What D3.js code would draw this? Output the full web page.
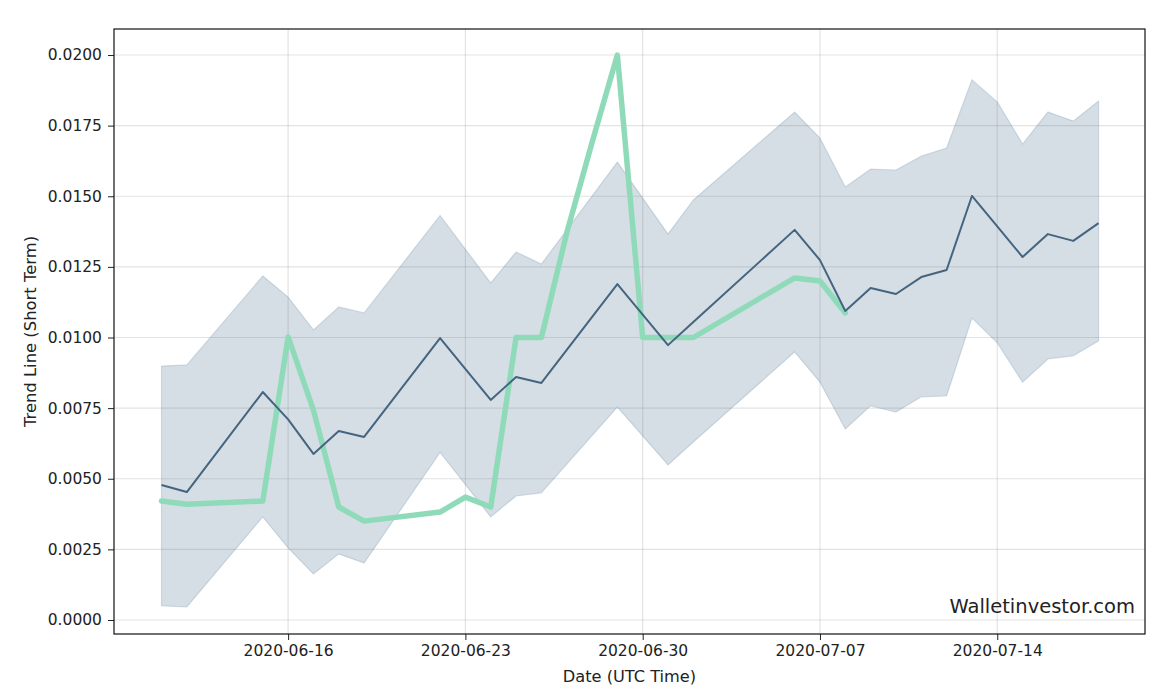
<!DOCTYPE html>
<html><head><meta charset="utf-8">
<script src="https://cdn.jsdelivr.net/npm/d3@7/dist/d3.min.js"></script>
<style>
body{margin:0;background:#fff;}
svg{display:block;}
text{font-family:"DejaVu Sans",sans-serif;fill:#222;}
</style></head><body>
<svg id="c" width="1170" height="690"></svg>
<script>
// Mean trend line and band (dates share one array)
const bandDates = ["2020-06-11","2020-06-12","2020-06-15","2020-06-16","2020-06-17","2020-06-18","2020-06-19","2020-06-22","2020-06-24","2020-06-25","2020-06-26","2020-06-29","2020-07-01","2020-07-02","2020-07-06","2020-07-07","2020-07-08","2020-07-09","2020-07-10","2020-07-11","2020-07-12","2020-07-13","2020-07-14","2020-07-15","2020-07-16","2020-07-17","2020-07-18"];
const meanValues = [0.00478,0.00453,0.00807,0.00710,0.00588,0.00669,0.00648,0.00998,0.00779,0.00860,0.00839,0.01189,0.00973,0.01055,0.01381,0.01274,0.01094,0.01175,0.01154,0.01214,0.01239,0.01501,0.01393,0.01285,0.01366,0.01342,0.01405];
const upperValues = [0.00899,0.00903,0.01218,0.01143,0.01027,0.01108,0.01087,0.01432,0.01193,0.01303,0.01260,0.01621,0.01366,0.01487,0.01798,0.01706,0.01533,0.01596,0.01593,0.01642,0.01671,0.01912,0.01834,0.01685,0.01798,0.01766,0.01837];
const lowerValues = [0.00050,0.00046,0.00365,0.00255,0.00163,0.00234,0.00202,0.00593,0.00365,0.00439,0.00450,0.00754,0.00549,0.00630,0.00949,0.00842,0.00676,0.00758,0.00736,0.00790,0.00793,0.01069,0.00981,0.00842,0.00924,0.00935,0.00988];
// Actual price line
const priceDates = ["2020-06-11","2020-06-12","2020-06-15","2020-06-16","2020-06-17","2020-06-18","2020-06-19","2020-06-22","2020-06-23","2020-06-24","2020-06-25","2020-06-26","2020-06-27","2020-06-28","2020-06-29","2020-06-30","2020-07-01","2020-07-02","2020-07-06","2020-07-07","2020-07-08"];
const priceValues = [0.00421,0.00410,0.00421,0.01002,0.00743,0.00400,0.00350,0.00382,0.00435,0.00400,0.01000,0.01000,0.01370,0.01690,0.02000,0.01000,0.01000,0.01000,0.01211,0.01200,0.01087];
const xTickLabels = ["2020-06-16","2020-06-23","2020-06-30","2020-07-07","2020-07-14"];
const yTickValues = [0,0.0025,0.005,0.0075,0.01,0.0125,0.015,0.0175,0.02];

const parse = d3.utcParse("%Y-%m-%d");
const svg = d3.select("#c");
const L=114, R=1145, T=29, B=634;

const x = d3.scaleUtc()
  .domain([d3.utcHour.offset(parse("2020-06-11"), -44.4), d3.utcHour.offset(parse("2020-07-18"), 44.4)])
  .range([L, R]);
const y = d3.scaleLinear().domain([-0.000496, 0.020921]).range([B, T]);

// grid
const g = svg.append("g");
g.selectAll(".hg").data(yTickValues).join("line")
  .attr("x1",L).attr("x2",R).attr("y1",d=>y(d)).attr("y2",d=>y(d))
  .attr("stroke","#b0b0b0").attr("stroke-opacity",0.35).attr("stroke-width",1.2);
g.selectAll(".vg").data(xTickLabels).join("line")
  .attr("y1",T).attr("y2",B).attr("x1",d=>x(parse(d))).attr("x2",d=>x(parse(d)))
  .attr("stroke","#b0b0b0").attr("stroke-opacity",0.35).attr("stroke-width",1.2);

// band
const band = bandDates.map((d,i)=>({d:parse(d), lo:lowerValues[i], hi:upperValues[i], m:meanValues[i]}));
svg.append("path").datum(band)
  .attr("d", d3.area().x(d=>x(d.d)).y0(d=>y(d.lo)).y1(d=>y(d.hi)))
  .attr("fill","#48708f").attr("fill-opacity",0.23)
  .attr("stroke","#48708f").attr("stroke-opacity",0.2).attr("stroke-width",1.2);

// price line
const price = priceDates.map((d,i)=>({d:parse(d), v:priceValues[i]}));
svg.append("path").datum(price)
  .attr("d", d3.line().x(d=>x(d.d)).y(d=>y(d.v)))
  .attr("fill","none").attr("stroke","#8fdbb9").attr("stroke-width",5.5)
  .attr("stroke-linejoin","round").attr("stroke-linecap","round");

// mean line
svg.append("path").datum(band)
  .attr("d", d3.line().x(d=>x(d.d)).y(d=>y(d.m)))
  .attr("fill","none").attr("stroke","#44647f").attr("stroke-width",2)
  .attr("stroke-linejoin","round");

// axes
const xAxis = d3.axisBottom(x).tickValues(xTickLabels.map(parse)).tickFormat(d3.utcFormat("%Y-%m-%d")).tickSize(6).tickPadding(5);
const ax = svg.append("g").attr("transform",`translate(0,${B})`).call(xAxis);
ax.select(".domain").remove();
ax.selectAll("text").attr("font-size","15.5px").attr("font-family","DejaVu Sans").attr("fill","#222");
ax.selectAll("line").attr("stroke","#222");

const yAxis = d3.axisLeft(y).tickValues(yTickValues).tickFormat(d3.format(".4f")).tickSize(6).tickPadding(6);
const ay = svg.append("g").attr("transform",`translate(${L},0)`).call(yAxis);
ay.select(".domain").remove();
ay.selectAll("text").attr("font-size","15.5px").attr("font-family","DejaVu Sans").attr("fill","#222");
ay.selectAll("line").attr("stroke","#222");

// frame
svg.append("rect").attr("x",L).attr("y",T).attr("width",R-L).attr("height",B-T)
  .attr("fill","none").attr("stroke","#111").attr("stroke-width",1.2);

// labels
svg.append("text").attr("x",(L+R)/2).attr("y",682).attr("text-anchor","middle")
  .attr("font-size","16.2px").text("Date (UTC Time)");
svg.append("text").attr("transform",`translate(36,${(T+B)/2}) rotate(-90)`).attr("text-anchor","middle")
  .attr("font-size","16.4px").text("Trend Line (Short Term)");
svg.append("text").attr("x",1135).attr("y",613).attr("text-anchor","end")
  .attr("font-family","Liberation Sans, Arial, sans-serif").attr("font-size","19.5px").attr("fill","#2a2a2a")
  .text("Walletinvestor.com");
</script>
</body></html>
